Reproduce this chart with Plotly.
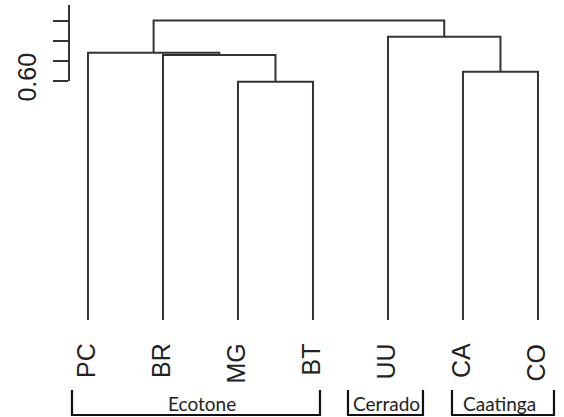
import plotly.graph_objects as go

# ---------------- data ----------------
leaves = ["PC", "BR", "MG", "BT", "UU", "CA", "CO"]
# hclust-style merge table: negative = leaf (1-based), positive = earlier merge
merge_left = [-3, -6, -2, -1, -5, 4]
merge_right = [-4, -7, 1, 3, 2, 5]
merge_height = [0.598, 0.623, 0.665, 0.671, 0.711, 0.752]
tick_values = [0.60, 0.65, 0.70, 0.75]
tick_labels = ["0.60", "", "", ""]
group_names = ["Ecotone", "Cerrado", "Caatinga"]
group_first = ["PC", "UU", "CA"]
group_last = ["BT", "UU", "CO"]

# ---------------- geometry ----------------
W, H = 564, 417
ML = 69
x_range = [0.747, 7.347]
y_range = [-0.2435, 0.8032]
py = (y_range[1] - y_range[0]) / H   # data units per pixel (vertical)
px = (x_range[1] - x_range[0]) / (W - ML)

leaf_x = {i + 1: i + 1 for i in range(len(leaves))}
node_x, node_h = {}, {}


def pos(ref):
    if ref < 0:
        return leaf_x[-ref], 0.0
    return node_x[ref], node_h[ref]


lx, ly = [], []
for k, (a, b, h) in enumerate(zip(merge_left, merge_right, merge_height), start=1):
    xa, ha = pos(a)
    xb, hb = pos(b)
    lx += [xa, xa, xb, xb, None]
    ly += [ha, h, h, hb, None]
    node_x[k] = (xa + xb) / 2
    node_h[k] = h

fig = go.Figure()
fig.add_trace(go.Scatter(x=lx, y=ly, mode="lines",
                         line=dict(color="#333333", width=2),
                         hoverinfo="skip", cliponaxis=False, showlegend=False))

LABEL_FONT = "Liberation Sans, Arial, sans-serif"

# leaf labels
for i, name in enumerate(leaves, start=1):
    fig.add_annotation(x=i, y=-22 * py, text=name, textangle=-90,
                       xanchor="center", yanchor="top", showarrow=False,
                       xshift=-1.5, borderpad=0,
                       font=dict(family=LABEL_FONT, size=25, color="#222222"))

# group brackets
pads_left = [16, 40, 11]
pads_right = [7, 35, 16]
text_shift = [6, 1, -3]
top_y = -70 * py
bot_y = -95 * py
for name, f, l, pl, pr, ts in zip(group_names, group_first, group_last,
                                  pads_left, pads_right, text_shift):
    x0 = leaves.index(f) + 1 - pl * px
    x1 = leaves.index(l) + 1 + pr * px
    fig.add_trace(go.Scatter(x=[x0, x0, x1, x1], y=[top_y, bot_y, bot_y, top_y],
                             mode="lines", line=dict(color="#111111", width=2.2),
                             hoverinfo="skip", cliponaxis=False, showlegend=False))
    fig.add_annotation(x=(x0 + x1) / 2, y=bot_y - 1 * py, text=name,
                       xanchor="center", yanchor="bottom", showarrow=False,
                       xshift=ts, borderpad=0,
                       font=dict(family="Lato, Carlito, sans-serif", size=19, color="#222222"))

# y-axis line (only over the labelled part)
fig.add_shape(type="line", xref="paper", x0=0, x1=0, y0=tick_values[0], y1=0.7907,
              line=dict(color="#333333", width=2))

fig.update_layout(
    width=W, height=H,
    margin=dict(l=ML, r=0, t=0, b=0, pad=0),
    plot_bgcolor="white", paper_bgcolor="white",
    xaxis=dict(range=x_range, visible=False, fixedrange=True, automargin=False),
    yaxis=dict(range=y_range, showgrid=False, zeroline=False, showline=False,
               automargin=False, fixedrange=True,
               tickvals=tick_values, ticktext=tick_labels, ticks="outside",
               ticklen=15, tickwidth=2, tickcolor="#333333", tickangle=-90,
               ticklabelstandoff=7,
               tickfont=dict(family=LABEL_FONT, size=25, color="#222222")),
)

fig.write_html("out.html", config={"displayModeBar": False, "staticPlot": True},
               post_script="document.body.style.margin='0';document.body.style.overflow='hidden';")
